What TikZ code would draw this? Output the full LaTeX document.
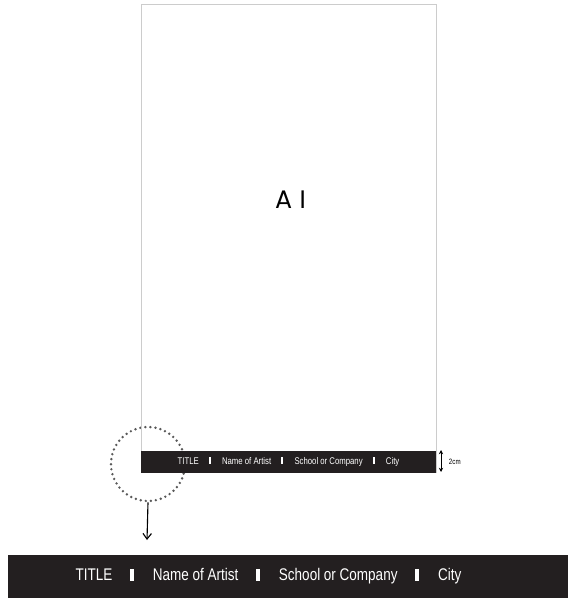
\documentclass[tikz,border=0pt]{standalone}
\usepackage{fontspec}
\setmainfont{Liberation Sans}
\newfontfamily\stripfont[FakeStretch=0.8]{Liberation Sans}
\newfontfamily\formatfont{Poppins}
\usetikzlibrary{positioning, arrows.meta}

\definecolor{stripblack}{RGB}{35,31,32}
\newcommand{\sepmark}{\hspace{1.05em}\rule[0.02em]{0.2em}{0.66em}\hspace{1.15em}}

\tikzset{
  strip/.style={fill=stripblack, text=white, inner sep=0pt},
}

\begin{document}
\begin{tikzpicture}[x=0.025cm, y=-0.025cm]
    \useasboundingbox (0,0) rectangle (568,598);

    % Draw the dotted circle marking the zoomed part
    \node[circle, draw=gray!70!black, line width=1.9pt, line cap=round,
          dash pattern=on 0pt off 3.6pt, minimum size=1.85cm] (zoom) at (148,464) {};

    % Draw the A1 sheet
    \draw[gray!40, line width=0.6pt] (141,4) rectangle (436,472);
    \node[font=\formatfont\fontsize{18}{18}\selectfont] (format) at (290.5,200) {A\hspace{0.3em}I};

    % Strip at the bottom of the sheet
    \node[strip, minimum width=7.375cm, minimum height=0.55cm,
          font=\stripfont\fontsize{6.9}{7}\selectfont] (smallstrip) at (288.5,461.5)
          {TITLE\sepmark Name of Artist\sepmark School or Company\sepmark City};

    % Height of the strip
    \coordinate (htop) at (441,450);
    \coordinate (hbot) at (441,472);
    \draw[{Stealth[length=3pt,width=3pt]}-{Stealth[length=3pt,width=3pt]}, line width=0.7pt] (htop) -- (hbot);
    \node[font=\stripfont\fontsize{5.5}{6}\selectfont, anchor=west] (height) at (444,462) {2cm};

    % Enlarged strip
    \node[strip, minimum width=14cm, minimum height=1.075cm] (bigstrip) at (288,576.5) {};
    \node[text=white, font=\stripfont\fontsize{12}{12}\selectfont] (bigtext) at (268.5,576.5)
          {TITLE\sepmark Name of Artist\sepmark School or Company\sepmark City};

    \coordinate (tip) at (147,540);
    \draw[-{Straight Barb[length=4pt,width=6pt]}, line width=0.8pt] (zoom.south) -- (tip);

\end{tikzpicture}
\end{document}
